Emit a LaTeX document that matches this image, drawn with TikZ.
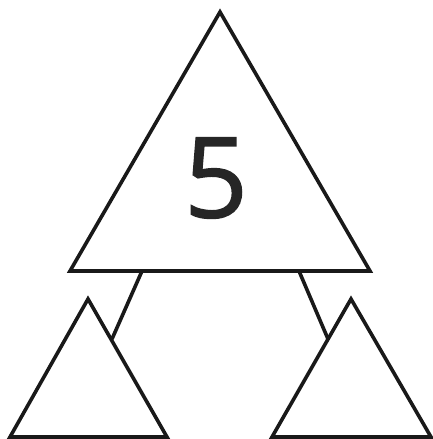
\documentclass[tikz,border=0pt]{standalone}
\usepackage{fontspec}
\newfontfamily\numfont[FakeBold=1.2]{Open Sans}
\begin{document}
\begin{tikzpicture}[x=1pt,y=-1pt,
  tri/.style={draw=black!90, line width=3.6pt, line join=miter, fill=white},
  link/.style={draw=black!90, line width=3.6pt},
  numlabel/.style={font=\numfont\fontsize{112}{112}\selectfont, text=black!85, inner sep=0pt}]
\useasboundingbox (0,0) rectangle (433,439);
% big triangle
\coordinate (bA) at (220,12);
\coordinate (bL) at (70,271);
\coordinate (bR) at (370,271);
% left small triangle
\coordinate (lA) at (88,299);
\coordinate (lL) at (10,437);
\coordinate (lR) at (167,437);
% right small triangle
\coordinate (rA) at (351,299);
\coordinate (rL) at (272,437);
\coordinate (rR) at (431,437);
% connector ends
\coordinate (c1t) at (142,271);
\coordinate (c1b) at (112,339);
\coordinate (c2t) at (299,271);
\coordinate (c2b) at (328,339);
\draw[link] (c1t) -- (c1b);
\draw[link] (c2t) -- (c2b);
\draw[tri] (bA) -- (bL) -- (bR) -- cycle;
\draw[tri] (lA) -- (lL) -- (lR) -- cycle;
\draw[tri] (rA) -- (rL) -- (rR) -- cycle;
\node[numlabel] (five) at (216,178) {5};
\end{tikzpicture}
\end{document}
